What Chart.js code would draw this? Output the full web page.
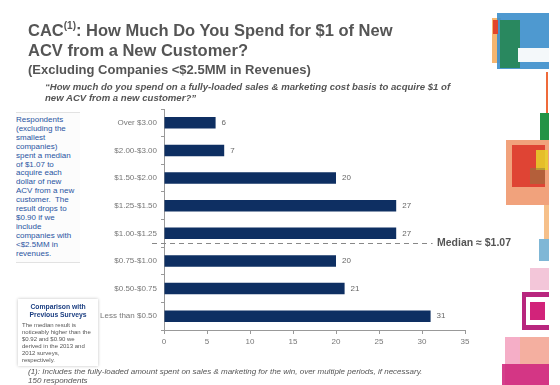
<!DOCTYPE html>
<html>
<head>
<meta charset="utf-8">
<script src="https://cdn.jsdelivr.net/npm/chart.js"></script>
<style>
  html, body { margin: 0; padding: 0; background: #fff; }
  body { width: 560px; height: 385px; position: relative; overflow: hidden; font-family: "Liberation Sans", Arial, sans-serif; }
  #chart { position: absolute; left: 0; top: 0; width: 560px; height: 385px; }
  .abs { position: absolute; white-space: nowrap; }
  .title { left: 28px; top: 20px; font-size: 16.5px; font-weight: bold; color: #555; line-height: 20px; }
  .title sup { font-size: 10px; vertical-align: 7px; line-height: 0; }
  .sub { left: 28px; top: 62px; font-size: 13px; font-weight: bold; color: #555; }
  .quote { left: 45px; top: 81px; font-size: 9.6px; font-weight: bold; font-style: italic; color: #555; line-height: 11px; }
  .note { left: 16px; top: 112px; width: 64px; height: 146px; border-top: 1px solid #e2e2e2; border-bottom: 1px solid #e2e2e2;
          background: #fcfcfc; font-size: 8px; color: #2a55a2; line-height: 8.9px; padding-top: 3px; }
  .cmp { left: 18px; top: 299px; width: 80px; height: 67px; background: #fff; box-shadow: 0 0 3px rgba(0,0,0,0.25); }
  .cmp .h { text-align: center; font-size: 6.8px; font-weight: bold; color: #1c3f82; line-height: 7.5px; margin-top: 4px; }
  .cmp .b { font-size: 6px; color: #555; line-height: 7px; margin: 4px 0 0 4px; }
  .foot { left: 28px; top: 367px; font-size: 8px; font-style: italic; color: #555; line-height: 9px; }
  .median { left: 437px; top: 236px; font-size: 10.5px; font-weight: bold; color: #555; }
  .deco { position: absolute; }
</style>
</head>
<body>
<canvas id="chart" width="560" height="385"></canvas>

<div class="abs title">CAC<sup>(1)</sup>: How Much Do You Spend for $1 of New<br>ACV from a New Customer?</div>
<div class="abs sub">(Excluding Companies &lt;$2.5MM in Revenues)</div>
<div class="abs quote">&ldquo;How much do you spend on a fully-loaded sales &amp; marketing cost basis to acquire $1 of<br>new ACV from a new customer?&rdquo;</div>

<div class="abs note">Respondents<br>(excluding the<br>smallest<br>companies)<br>spent a median<br>of $1.07 to<br>acquire each<br>dollar of new<br>ACV from a new<br>customer.&nbsp; The<br>result drops to<br>$0.90 if we<br>include<br>companies with<br>&lt;$2.5MM in<br>revenues.</div>

<div class="abs cmp">
  <div class="h">Comparison with<br>Previous Surveys</div>
  <div class="b">The median result is<br>noticeably higher than the<br>$0.92 and $0.90 we<br>derived in the 2013 and<br>2012 surveys,<br>respectively.</div>
</div>

<div class="abs median">Median &asymp; $1.07</div>

<div class="abs foot">(1): Includes the fully-loaded amount spent on sales &amp; marketing for the win, over multiple periods, if necessary.<br>150 respondents</div>

<!-- decorative squares on the right edge -->
<div class="deco" style="left:492px;top:18px;width:9px;height:45px;background:#f6b56e;"></div>
<div class="deco" style="left:497px;top:13px;width:52px;height:56px;background:#3b8ecb;opacity:.9;"></div>
<div class="deco" style="left:500px;top:20px;width:20px;height:48px;background:#23864c;opacity:.85;"></div>
<div class="deco" style="left:493px;top:20px;width:5px;height:14px;background:#e2452b;"></div>
<div class="deco" style="left:518px;top:48px;width:31px;height:14px;background:#f4f8fa;"></div>
<div class="deco" style="left:546px;top:72px;width:2px;height:50px;background:#ef6a3a;"></div>
<div class="deco" style="left:540px;top:113px;width:9px;height:40px;background:#239346;"></div>
<div class="deco" style="left:506px;top:140px;width:43px;height:65px;background:#f1a27c;"></div>
<div class="deco" style="left:512px;top:145px;width:33px;height:42px;background:#dd3a2c;opacity:.9;"></div>
<div class="deco" style="left:536px;top:150px;width:12px;height:20px;background:#e7d32a;opacity:.85;"></div>
<div class="deco" style="left:530px;top:168px;width:15px;height:16px;background:#8a7a40;opacity:.5;"></div>
<div class="deco" style="left:544px;top:205px;width:5px;height:35px;background:#f6c08a;"></div>
<div class="deco" style="left:539px;top:239px;width:10px;height:22px;background:#7fb7d6;"></div>
<div class="deco" style="left:530px;top:268px;width:19px;height:22px;background:#f0b8cf;opacity:.8;"></div>
<div class="deco" style="left:522px;top:292px;width:27px;height:38px;background:#b8267e;"></div>
<div class="deco" style="left:526px;top:297px;width:23px;height:28px;background:#fff;"></div>
<div class="deco" style="left:530px;top:302px;width:15px;height:18px;background:#d2237a;"></div>
<div class="deco" style="left:505px;top:337px;width:44px;height:48px;background:#f3a0bd;opacity:.85;"></div>
<div class="deco" style="left:520px;top:337px;width:29px;height:30px;background:#f4b090;opacity:.7;"></div>
<div class="deco" style="left:502px;top:364px;width:47px;height:21px;background:#d02a7e;opacity:.9;"></div>

<script>
// categories top to bottom, as in the slide
const ranges = ['Over $3.00', '$2.00-$3.00', '$1.50-$2.00', '$1.25-$1.50', '$1.00-$1.25', '$0.75-$1.00', '$0.50-$0.75', 'Less than $0.50'];
const respondents = [6, 7, 20, 27, 27, 20, 21, 31];
const xTicks = [0, 5, 10, 15, 20, 25, 30, 35];
// median sits just below the $1.00-$1.25 bucket (category index units)
const medianPos = 4.36;

const barLabels = {
  id: 'barLabels',
  afterDatasetsDraw(chart) {
    const ctx = chart.ctx;
    const meta = chart.getDatasetMeta(0);
    ctx.save();
    ctx.font = '8px "Liberation Sans", Arial, sans-serif';
    ctx.fillStyle = '#666';
    ctx.textBaseline = 'middle';
    ctx.textAlign = 'left';
    meta.data.forEach((bar, i) => {
      ctx.fillText(String(respondents[i]), bar.x + 6, bar.y);
    });
    ctx.restore();
  }
};

const medianLine = {
  id: 'medianLine',
  afterDraw(chart) {
    const ctx = chart.ctx;
    const y = Math.round(chart.scales.y.getPixelForValue(medianPos)) + 0.5;
    const x0 = chart.chartArea.left - 12;
    const x1 = chart.scales.x.getPixelForValue(31) + 2;
    ctx.save();
    ctx.strokeStyle = '#888';
    ctx.lineWidth = 1;
    ctx.setLineDash([5, 4]);
    ctx.beginPath();
    ctx.moveTo(x0, y);
    ctx.lineTo(x1, y);
    ctx.stroke();
    ctx.restore();
  }
};

new Chart(document.getElementById('chart'), {
  type: 'bar',
  data: {
    labels: ranges,
    datasets: [{
      data: respondents,
      backgroundColor: '#0e2f62',
      borderWidth: 0,
      barPercentage: 0.42,
      categoryPercentage: 1
    }]
  },
  options: {
    indexAxis: 'y',
    responsive: false,
    animation: false,
    events: [],
    layout: { padding: { left: 0, top: 109, right: 95, bottom: 0 } },
    plugins: { legend: { display: false }, tooltip: { enabled: false } },
    scales: {
      x: {
        min: 0, max: 35,
        afterBuildTicks(axis) { axis.ticks = xTicks.map(v => ({ value: v })); },
        afterFit(axis) { axis.height = 55; },
        grid: { drawOnChartArea: false, color: '#999', tickLength: 4 },
        border: { color: '#999' },
        ticks: { color: '#777', font: { size: 8, family: '"Liberation Sans", Arial, sans-serif' }, padding: 3 }
      },
      y: {
        afterFit(axis) { axis.width = 164; },
        grid: { drawOnChartArea: false, color: '#999', tickLength: 3 },
        border: { color: '#999' },
        ticks: { color: '#777', font: { size: 8, family: '"Liberation Sans", Arial, sans-serif' }, padding: 4 }
      }
    }
  },
  plugins: [barLabels, medianLine]
});
</script>
</body>
</html>
